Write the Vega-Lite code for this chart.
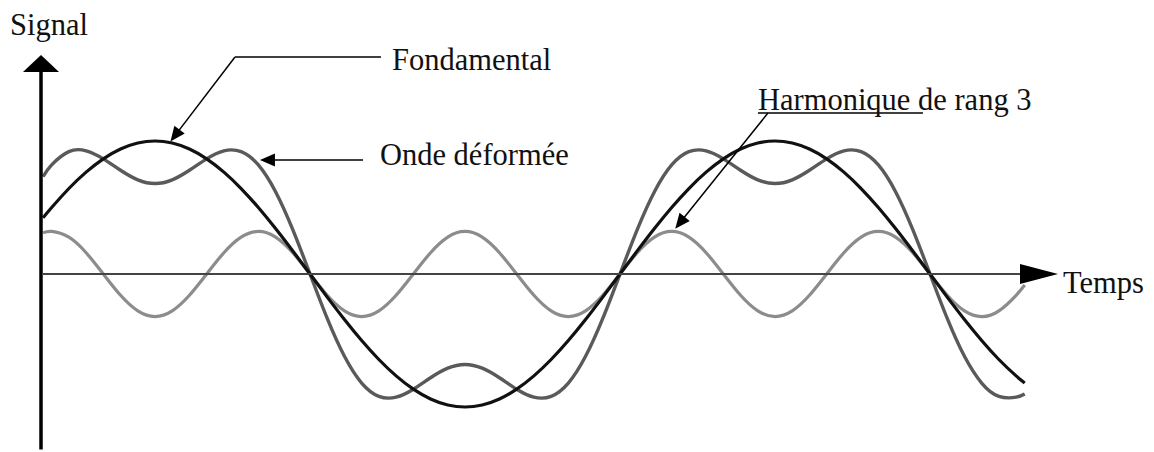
{
  "$schema": "https://vega.github.io/schema/vega-lite/v6.json",
  "width": 1154,
  "height": 452,
  "padding": 0,
  "autosize": {"type": "fit", "contains": "padding"},
  "background": "white",
  "config": {"view": {"stroke": null}},
  "datasets": {
    "courbes": [
      {"t":25,"fondamental":0.4226,"harmonique":0.309,"onde":0.732},
      {"t":30,"fondamental":0.5,"harmonique":0.32,"onde":0.82},
      {"t":40,"fondamental":0.6428,"harmonique":0.277,"onde":0.92},
      {"t":50,"fondamental":0.766,"harmonique":0.16,"onde":0.926},
      {"t":60,"fondamental":0.866,"harmonique":0,"onde":0.866},
      {"t":70,"fondamental":0.9397,"harmonique":-0.16,"onde":0.78},
      {"t":80,"fondamental":0.9848,"harmonique":-0.277,"onde":0.708},
      {"t":90,"fondamental":1,"harmonique":-0.32,"onde":0.68},
      {"t":100,"fondamental":0.9848,"harmonique":-0.277,"onde":0.708},
      {"t":110,"fondamental":0.9397,"harmonique":-0.16,"onde":0.78},
      {"t":120,"fondamental":0.866,"harmonique":0,"onde":0.866},
      {"t":130,"fondamental":0.766,"harmonique":0.16,"onde":0.926},
      {"t":140,"fondamental":0.6428,"harmonique":0.277,"onde":0.92},
      {"t":150,"fondamental":0.5,"harmonique":0.32,"onde":0.82},
      {"t":160,"fondamental":0.342,"harmonique":0.277,"onde":0.619},
      {"t":170,"fondamental":0.1736,"harmonique":0.16,"onde":0.334},
      {"t":180,"fondamental":0,"harmonique":0,"onde":0},
      {"t":190,"fondamental":-0.1736,"harmonique":-0.16,"onde":-0.334},
      {"t":200,"fondamental":-0.342,"harmonique":-0.277,"onde":-0.619},
      {"t":210,"fondamental":-0.5,"harmonique":-0.32,"onde":-0.82},
      {"t":220,"fondamental":-0.6428,"harmonique":-0.277,"onde":-0.92},
      {"t":230,"fondamental":-0.766,"harmonique":-0.16,"onde":-0.926},
      {"t":240,"fondamental":-0.866,"harmonique":0,"onde":-0.866},
      {"t":250,"fondamental":-0.9397,"harmonique":0.16,"onde":-0.78},
      {"t":260,"fondamental":-0.9848,"harmonique":0.277,"onde":-0.708},
      {"t":270,"fondamental":-1,"harmonique":0.32,"onde":-0.68},
      {"t":280,"fondamental":-0.9848,"harmonique":0.277,"onde":-0.708},
      {"t":290,"fondamental":-0.9397,"harmonique":0.16,"onde":-0.78},
      {"t":300,"fondamental":-0.866,"harmonique":0,"onde":-0.866},
      {"t":310,"fondamental":-0.766,"harmonique":-0.16,"onde":-0.926},
      {"t":320,"fondamental":-0.6428,"harmonique":-0.277,"onde":-0.92},
      {"t":330,"fondamental":-0.5,"harmonique":-0.32,"onde":-0.82},
      {"t":340,"fondamental":-0.342,"harmonique":-0.277,"onde":-0.619},
      {"t":350,"fondamental":-0.1736,"harmonique":-0.16,"onde":-0.334},
      {"t":360,"fondamental":0,"harmonique":0,"onde":0},
      {"t":370,"fondamental":0.1736,"harmonique":0.16,"onde":0.334},
      {"t":380,"fondamental":0.342,"harmonique":0.277,"onde":0.619},
      {"t":390,"fondamental":0.5,"harmonique":0.32,"onde":0.82},
      {"t":400,"fondamental":0.6428,"harmonique":0.277,"onde":0.92},
      {"t":410,"fondamental":0.766,"harmonique":0.16,"onde":0.926},
      {"t":420,"fondamental":0.866,"harmonique":0,"onde":0.866},
      {"t":430,"fondamental":0.9397,"harmonique":-0.16,"onde":0.78},
      {"t":440,"fondamental":0.9848,"harmonique":-0.277,"onde":0.708},
      {"t":450,"fondamental":1,"harmonique":-0.32,"onde":0.68},
      {"t":460,"fondamental":0.9848,"harmonique":-0.277,"onde":0.708},
      {"t":470,"fondamental":0.9397,"harmonique":-0.16,"onde":0.78},
      {"t":480,"fondamental":0.866,"harmonique":0,"onde":0.866},
      {"t":490,"fondamental":0.766,"harmonique":0.16,"onde":0.926},
      {"t":500,"fondamental":0.6428,"harmonique":0.277,"onde":0.92},
      {"t":510,"fondamental":0.5,"harmonique":0.32,"onde":0.82},
      {"t":520,"fondamental":0.342,"harmonique":0.277,"onde":0.619},
      {"t":530,"fondamental":0.1736,"harmonique":0.16,"onde":0.334},
      {"t":540,"fondamental":0,"harmonique":0,"onde":0},
      {"t":550,"fondamental":-0.1736,"harmonique":-0.16,"onde":-0.334},
      {"t":560,"fondamental":-0.342,"harmonique":-0.277,"onde":-0.619},
      {"t":570,"fondamental":-0.5,"harmonique":-0.32,"onde":-0.82},
      {"t":580,"fondamental":-0.6428,"harmonique":-0.277,"onde":-0.92},
      {"t":590,"fondamental":-0.766,"harmonique":-0.16,"onde":-0.926},
      {"t":595,"fondamental":-0.8192,"harmonique":-0.083,"onde":-0.902}
    ]
  },
  "layer": [
    {
      "data": {"name": "courbes"},
      "mark": {"type": "line", "interpolate": "natural", "color": "#8c8c8c", "strokeWidth": 3.2},
      "encoding": {
        "x": {"field": "t", "type": "quantitative", "scale": {"domain": [0, 670.06], "nice": false, "zero": false}, "axis": null},
        "y": {"field": "harmonique", "type": "quantitative", "scale": {"domain": [-1.3383, 2.0602], "nice": false, "zero": false}, "axis": null}
      }
    },
    {
      "data": {"name": "courbes"},
      "mark": {"type": "line", "interpolate": "natural", "color": "#5a5a5a", "strokeWidth": 3.4},
      "encoding": {
        "x": {"field": "t", "type": "quantitative", "axis": null},
        "y": {"field": "onde", "type": "quantitative", "axis": null}
      }
    },
    {
      "data": {"name": "courbes"},
      "mark": {"type": "line", "interpolate": "natural", "color": "#111111", "strokeWidth": 3.2},
      "encoding": {
        "x": {"field": "t", "type": "quantitative", "axis": null},
        "y": {"field": "fondamental", "type": "quantitative", "axis": null}
      }
    },
    {
      "data": {"values": [{"t": 23.81, "v": -1.32, "v2": 1.534}]},
      "mark": {"type": "rule", "color": "#000000", "strokeWidth": 3.5},
      "encoding": {
        "x": {"field": "t", "type": "quantitative", "axis": null},
        "y": {"field": "v", "type": "quantitative", "axis": null},
        "y2": {"field": "v2"}
      }
    },
    {
      "data": {"values": [{"t": 24.39, "t2": 595.2, "v": 0}]},
      "mark": {"type": "rule", "color": "#444444", "strokeWidth": 2},
      "encoding": {
        "x": {"field": "t", "type": "quantitative", "axis": null},
        "x2": {"field": "t2"},
        "y": {"field": "v", "type": "quantitative", "axis": null}
      }
    },
    {
      "data": {"values": [
        {"t": 136.45, "v": 1.6316, "t2": 221.2, "v2": 1.6316},
        {"t": 136.45, "v": 1.6316, "t2": 101.6, "v2": 1.0406},
        {"t": 210.8, "v": 0.857, "t2": 155.6, "v2": 0.857},
        {"t": 440.1, "v": 1.2105, "t2": 535.9, "v2": 1.2105},
        {"t": 445.9, "v": 1.2105, "t2": 394.8, "v2": 0.385}
      ]},
      "mark": {"type": "rule", "color": "#000000", "strokeWidth": 1.5},
      "encoding": {
        "x": {"field": "t", "type": "quantitative", "axis": null},
        "y": {"field": "v", "type": "quantitative", "axis": null},
        "x2": {"field": "t2"},
        "y2": {"field": "v2"}
      }
    },
    {
      "data": {"values": [{"t": 23.81, "v": 1.5827}]},
      "mark": {"type": "point", "shape": "M0,-1 L2.12,1 L-2.12,1 Z", "size": 289, "filled": true, "color": "#000000", "opacity": 1, "strokeWidth": 0},
      "encoding": {
        "x": {"field": "t", "type": "quantitative", "axis": null},
        "y": {"field": "v", "type": "quantitative", "axis": null}
      }
    },
    {
      "data": {"values": [{"t": 603.3, "v": 0}]},
      "mark": {"type": "point", "shape": "M1,0 L-1,-0.53 L-1,0.53 Z", "size": 1444, "filled": true, "color": "#000000", "opacity": 1, "strokeWidth": 0},
      "encoding": {
        "x": {"field": "t", "type": "quantitative", "axis": null},
        "y": {"field": "v", "type": "quantitative", "axis": null}
      }
    },
    {
      "data": {"values": [{"t": 101.6, "v": 1.0406}]},
      "mark": {"type": "point", "shape": "M1,0 L-1,-0.87 L-1,0.87 Z", "size": 225, "angle": 127.4, "filled": true, "color": "#000000", "opacity": 1, "strokeWidth": 0},
      "encoding": {
        "x": {"field": "t", "type": "quantitative", "axis": null},
        "y": {"field": "v", "type": "quantitative", "axis": null}
      }
    },
    {
      "data": {"values": [{"t": 155.3, "v": 0.857}]},
      "mark": {"type": "point", "shape": "M1,0 L-1,-0.87 L-1,0.87 Z", "size": 225, "angle": 180, "filled": true, "color": "#000000", "opacity": 1, "strokeWidth": 0},
      "encoding": {
        "x": {"field": "t", "type": "quantitative", "axis": null},
        "y": {"field": "v", "type": "quantitative", "axis": null}
      }
    },
    {
      "data": {"values": [{"t": 394.8, "v": 0.385}]},
      "mark": {"type": "point", "shape": "M1,0 L-1,-0.87 L-1,0.87 Z", "size": 225, "angle": 128.7, "filled": true, "color": "#000000", "opacity": 1, "strokeWidth": 0},
      "encoding": {
        "x": {"field": "t", "type": "quantitative", "axis": null},
        "y": {"field": "v", "type": "quantitative", "axis": null}
      }
    },
    {
      "data": {"values": [
        {"t": 5.81, "v": 1.797, "label": "Signal"},
        {"t": 227.6, "v": 1.534, "label": "Fondamental"},
        {"t": 220.6, "v": 0.8195, "label": "Onde déformée"},
        {"t": 440.1, "v": 1.233, "label": "Harmonique de rang 3"},
        {"t": 617.2, "v": -0.1429, "label": "Temps"}
      ]},
      "mark": {"type": "text", "align": "left", "baseline": "alphabetic", "font": "Liberation Serif", "fontSize": 30.5, "color": "#111111"},
      "encoding": {
        "x": {"field": "t", "type": "quantitative", "axis": null},
        "y": {"field": "v", "type": "quantitative", "axis": null},
        "text": {"field": "label"}
      }
    }
  ]
}
